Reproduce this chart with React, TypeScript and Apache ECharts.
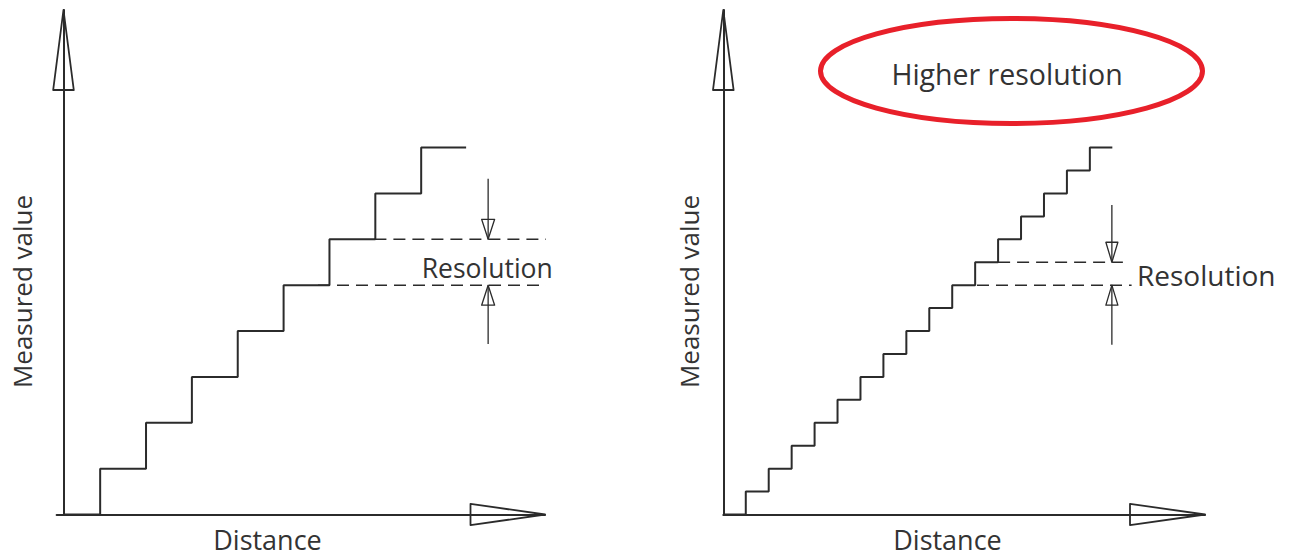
import React, { useEffect, useRef } from "react";
import * as echarts from "echarts";

// ---- data (axis units: one coarse resolution step = 1) ----
const leftDistance = [0, 0.8, 1.8, 2.8, 3.8, 4.8, 5.8, 6.8, 7.8, 8.78];
const leftValue = [0, 1, 2, 3, 4, 5, 6, 7, 8, 8];

const rightDistance = [0, 0.49, 0.99, 1.49, 1.99, 2.49, 2.99, 3.49, 3.99, 4.49, 4.99, 5.49, 5.99, 6.49, 6.99, 7.49, 7.99, 8.48];
const rightValue = [0, 0.5, 1, 1.5, 2, 2.5, 3, 3.5, 4, 4.5, 5, 5.5, 6, 6.5, 7, 7.5, 8, 8];

// resolution band levels [lower, upper]
const leftBand = [5, 6];
const rightBand = [5, 5.5];

// dashed guide extents along distance: [start, end]
const leftDashLower = [5.55, 10.55];
const leftDashUpper = [6.78, 10.55];
const rightDashLower = [5.53, 8.9];
const rightDashUpper = [5.99, 8.71];

// resolution arrows: [distance, fromValue, toValue]
const leftArrows = [
  [9.26, 7.32, leftBand[1]],
  [9.26, 3.72, leftBand[0]],
];
const rightArrows = [
  [8.47, 6.75, rightBand[1]],
  [8.47, 3.7, rightBand[0]],
];

const leftXRange = [-0.15, 10.5];
const rightXRange = [0, 10.5];
const yRange = [0, 11];

const axisTitleY = "Measured value";
const axisTitleX = "Distance";
const bandLabel = "Resolution";
const headline = "Higher resolution";

const INK = "#2b2b2b";
const TEXT = "#333333";
const FONT = '"Open Sans", "Noto Sans", sans-serif';

function arrowRenderer(headLen: number, headHalf: number, shaft: boolean, lw: number) {
  return (params: any, api: any) => {
    const p0 = api.coord([api.value(0), api.value(1)]);
    const p1 = api.coord([api.value(2), api.value(3)]);
    const dx = p1[0] - p0[0];
    const dy = p1[1] - p0[1];
    const len = Math.hypot(dx, dy) || 1;
    const ux = dx / len;
    const uy = dy / len;
    const bx = p1[0] - ux * headLen;
    const by = p1[1] - uy * headLen;
    const nx = -uy * headHalf;
    const ny = ux * headHalf;
    const children: any[] = [];
    if (shaft) {
      children.push({
        type: "line",
        shape: { x1: p0[0], y1: p0[1], x2: p1[0], y2: p1[1] },
        style: { stroke: INK, lineWidth: lw },
      });
    }
    children.push({
      type: "polygon",
      shape: { points: [[p1[0], p1[1]], [bx + nx, by + ny], [bx - nx, by - ny]] },
      style: { fill: "none", stroke: INK, lineWidth: lw, lineJoin: "round" },
    });
    return { type: "group", children };
  };
}

function axisDef(gridIndex: number, range: number[]) {
  return {
    type: "value",
    gridIndex,
    min: range[0],
    max: range[1],
    axisLine: { show: true, onZero: true, lineStyle: { color: INK, width: 2 } },
    axisTick: { show: false },
    axisLabel: { show: false },
    splitLine: { show: false },
  };
}

function dashed(xi: number, ext: number[], level: number) {
  return {
    type: "line",
    xAxisIndex: xi,
    yAxisIndex: xi,
    data: [
      [ext[0], level],
      [ext[1], level],
    ],
    symbol: "none",
    clip: false,
    lineStyle: { color: INK, width: 1.6, type: [12, 7] },
    z: 2,
  };
}

function steps(xi: number, dist: number[], val: number[]) {
  return {
    type: "line",
    xAxisIndex: xi,
    yAxisIndex: xi,
    step: "end",
    symbol: "none",
    clip: false,
    data: dist.map((d, i) => [d, val[i]]),
    lineStyle: { color: INK, width: 2 },
    z: 3,
  };
}

function custom(xi: number, data: number[][], render: any) {
  return {
    type: "custom",
    xAxisIndex: xi,
    yAxisIndex: xi,
    clip: false,
    encode: { x: [0, 2], y: [1, 3] },
    data,
    renderItem: render,
    z: 4,
  };
}

export default function App() {
  const ref = useRef<HTMLDivElement>(null);

  useEffect(() => {
    if (!ref.current) return;
    const chart = echarts.init(ref.current, undefined, { renderer: "svg" });

    const option: any = {
      animation: false,
      backgroundColor: "#ffffff",
      grid: [
        { left: 56.6, top: 10, width: 488.4, height: 504.5 },
        { left: 723.3, top: 10, width: 481.7, height: 504.5 },
      ],
      xAxis: [axisDef(0, leftXRange), axisDef(1, rightXRange)],
      yAxis: [axisDef(0, yRange), axisDef(1, yRange)],
      series: [
        steps(0, leftDistance, leftValue),
        steps(1, rightDistance, rightValue),
        dashed(0, leftDashLower, leftBand[0]),
        dashed(0, leftDashUpper, leftBand[1]),
        dashed(1, rightDashLower, rightBand[0]),
        dashed(1, rightDashUpper, rightBand[1]),
        custom(0, leftArrows.map((a) => [a[0], a[1], a[0], a[2]]), arrowRenderer(20, 6.5, true, 1.3)),
        custom(1, rightArrows.map((a) => [a[0], a[1], a[0], a[2]]), arrowRenderer(20, 6, true, 1.3)),
        // axis arrowheads
        custom(0, [[0, yRange[0], 0, yRange[1]]], arrowRenderer(80, 10.3, false, 1.8)),
        custom(0, [[0, 0, leftXRange[1], 0]], arrowRenderer(74.5, 10.7, false, 1.8)),
        custom(1, [[0, yRange[0], 0, yRange[1]]], arrowRenderer(80, 10.3, false, 1.8)),
        custom(1, [[0, 0, rightXRange[1], 0]], arrowRenderer(75, 10.7, false, 1.8)),
      ],
      graphic: [
        {
          type: "ellipse",
          shape: { cx: 1011.5, cy: 71, rx: 191, ry: 52.5 },
          style: { fill: "none", stroke: "#e8202a", lineWidth: 5 },
        },
        {
          type: "text",
          x: 1007,
          y: 74,
          style: { text: headline, fontSize: 28.5, fontFamily: FONT, fill: TEXT, align: "center", verticalAlign: "middle" },
        },
        {
          type: "text",
          x: 22,
          y: 291.5,
          rotation: Math.PI / 2,
          style: { text: axisTitleY, fontSize: 26, fontFamily: FONT, fill: TEXT, align: "center", verticalAlign: "middle" },
        },
        {
          type: "text",
          x: 689,
          y: 291.5,
          rotation: Math.PI / 2,
          style: { text: axisTitleY, fontSize: 26, fontFamily: FONT, fill: TEXT, align: "center", verticalAlign: "middle" },
        },
        {
          type: "text",
          x: 267.5,
          y: 539,
          style: { text: axisTitleX, fontSize: 27, fontFamily: FONT, fill: TEXT, align: "center", verticalAlign: "middle" },
        },
        {
          type: "text",
          x: 947.5,
          y: 539,
          style: { text: axisTitleX, fontSize: 27, fontFamily: FONT, fill: TEXT, align: "center", verticalAlign: "middle" },
        },
        {
          type: "text",
          x: 421.7,
          y: 267.5,
          style: { text: bandLabel, fontSize: 26.5, fontFamily: FONT, fill: TEXT, align: "left", verticalAlign: "middle" },
        },
        {
          type: "text",
          x: 1137,
          y: 274.5,
          style: { text: bandLabel, fontSize: 28, fontFamily: FONT, fill: TEXT, align: "left", verticalAlign: "middle" },
        },
      ],
    };

    chart.setOption(option);
    return () => chart.dispose();
  }, []);

  return (
    <div
      ref={ref}
      style={{ position: "fixed", left: 0, top: 0, width: 1292, height: 558, background: "#fff" }}
    />
  );
}
